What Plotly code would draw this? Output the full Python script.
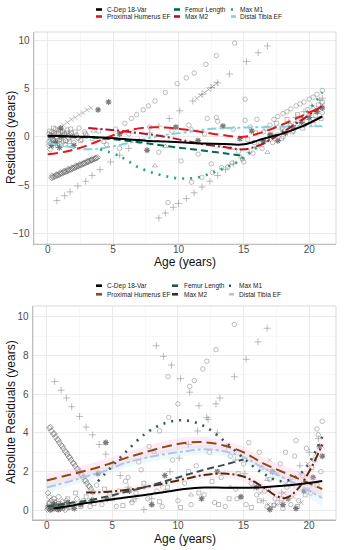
import plotly.graph_objects as go

W, H = 344, 550
FONT = "Liberation Sans"

# ---------------- TOP PANEL : residuals ----------------
top_circ_age = [0.1,0.2,0.3,0.4,0.5,0.6,0.7,0.8,0.9,1.0,1.1,1.2,1.3,1.5,1.6,1.8,2.0,2.2,2.4,2.6,2.8,3.0,
                5.2,5.9,6.4,6.8,7.3,7.7,8.2,9.0,9.9,10.6,11.2,12.1,12.9,14.3,
                4.5,5.5,6.2,7.0,7.8,8.5,9.2,9.5,10.2,10.8,11.5,12.0,12.5,13.0,13.4,13.8,14.2,14.6,15.1,15.0,15.5,15.8,12.2,12.9,15.1,16.0,
                16.5,17.0,17.3,17.6,18.0,18.3,18.6,19.0,19.3,19.6,20.0,20.3,20.6,21.0,
                11.0,11.8,12.6,13.3,14.1,14.9,15.7,16.4,17.2,18.0,18.8,19.6,20.3,21.0]
top_circ_res = [0.3,-0.2,0.5,-0.4,0.2,0.8,-0.1,0.4,-0.3,0.6,0.1,-0.5,0.3,0.7,-0.2,0.4,-0.6,0.2,0.9,-0.3,0.5,0.1,
                0.8,1.4,1.9,2.3,2.8,3.2,3.7,4.6,5.5,6.1,6.6,7.5,8.4,9.7,
                -0.8,-1.2,0.3,-0.5,1.0,-1.6,-6.8,0.6,-2.5,1.2,-1.8,0.3,-2.8,1.6,-0.9,-3.1,0.8,-1.5,3.9,-2.6,1.0,-0.6,1.9,2.0,1.7,1.8,
                0.5,1.2,1.8,2.1,2.4,2.6,2.9,3.2,3.4,3.6,3.9,4.1,4.4,4.8,
                -4.7,-4.2,-3.7,-3.2,-2.7,-2.3,-1.7,-1.2,-0.6,0.0,0.6,1.2,1.8,2.5]

top_plus_age = [0.7,1.3,1.7,2.3,2.9,3.4,4.0,4.8,5.5,6.2,7.0,7.8,8.5,9.3,10.1,11.1,11.8,12.5,13.0,13.9,15.2,16.1,16.8,
                8.5,9.0,9.6,10.0,10.6,11.2,11.8,12.4,13.0,13.6,14.2,14.8,15.4,16.0,16.6,17.2,17.8,18.4,19.0,19.6,20.2,20.8,21.0]
top_plus_res = [-6.6,-6.1,-5.7,-5.1,-4.6,-4.0,-3.4,-2.6,-1.9,-1.2,-0.4,0.4,1.1,1.9,2.7,3.7,4.4,5.1,5.6,6.5,7.8,8.7,9.4,
                -8.4,-7.9,-7.3,-6.9,-6.4,-5.8,-5.2,-4.6,-4.0,-3.4,-2.8,-2.2,-1.6,-1.0,-0.4,0.2,0.8,1.4,2.0,2.6,3.2,3.8,4.0]

top_x_age = [1.2,1.5,1.8,2.1,2.4,2.7,3.0,3.3, 16.3,16.9,17.5,18.1,18.7,19.3,19.9,20.5,21.0, 11.4,11.7,12.0,12.3,12.6,12.9]
top_x_res = [1.2,1.5,1.8,2.0,2.3,2.5,2.8,3.0, -0.9,-0.3,0.3,0.9,1.3,1.9,2.4,2.9,3.3, 4.0,4.3,4.6,4.9,5.2,5.5]

top_star_age = [3.85,4.65,1.0,2.0,5.5,7.6,9.8,11.5,13.4,14.7,15.6,16.5,17.0,17.6,18.2,18.8,19.4,20.0,20.6,21.0,0.3,0.6,0.9]
top_star_res = [2.8,3.6,0.9,-0.9,0.3,-1.4,1.0,-0.4,1.1,-0.2,0.6,-0.5,0.2,-0.4,0.4,1.0,1.5,2.0,2.6,3.0,-0.9,-0.6,-1.1]

top_diam_age = [0.3,0.4,0.5,0.6,0.7,0.8,0.9,1.0,1.1,1.2,1.3,1.4,1.5,1.6,1.7,1.8,1.9,2.0,2.1,2.2,2.3,2.4,2.5,2.6,2.7,2.8,2.9,3.0,3.1,3.2,3.3,3.4,3.5,3.6,3.7,3.8,
                0.1,0.2,0.4,0.5,0.8,1.0,1.4,1.7,2.3,0.2,0.1,
                0.35,0.65,0.95,1.25,1.55,1.85,2.15,2.45,2.75,3.05,3.35,3.65]
top_diam_res = [-4.25,-4.2,-4.12,-4.08,-4.0,-3.96,-3.9,-3.82,-3.78,-3.7,-3.66,-3.6,-3.52,-3.48,-3.4,-3.36,-3.3,-3.22,-3.18,-3.1,-3.05,-3.0,-2.92,-2.88,-2.8,-2.76,-2.7,-2.62,-2.58,-2.5,-2.45,-2.4,-2.32,-2.28,-2.2,-2.15,
                -0.5,0.1,-0.2,0.4,-0.7,0.0,-0.4,0.2,-0.1,-1.3,-0.9,
                -4.05,-3.9,-3.7,-3.55,-3.35,-3.2,-3.0,-2.85,-2.7,-2.5,-2.35,-2.2]

top_extra_age = [0.15,0.25,0.35,0.45,0.55,0.65,0.75,0.85,0.95,1.05,1.15,1.25,1.35,1.45,1.55,1.65,1.75,1.9,2.1,2.5,2.9,3.4,3.9,4.3,
                 15.3,15.9,16.3,16.7,17.1,17.5,17.9,18.3,18.7,19.1,19.5,19.9,20.3,20.7,21.0,20.9,20.5,19.8]
top_extra_res = [0.6,-0.7,0.1,0.9,-0.4,0.3,-0.9,0.7,0.0,-0.3,0.5,0.2,-0.8,0.4,0.1,-0.5,0.8,0.0,0.5,-0.4,0.3,-0.2,0.6,-0.5,
                 -0.3,0.4,-0.6,0.9,0.1,1.4,-0.2,1.8,0.5,2.3,0.9,2.8,1.3,3.3,3.6,1.9,2.2,1.6]

top_tri_age = [6.5,9.0,11.0,14.0,8.2,3.5,16.8]
top_tri_res = [0.5,-1.0,0.8,-1.2,-3.0,0.6,-1.6]

# smooth curves (top)
top_curve_age = [0,1.5,3,4.5,6,7.5,9,10.5,12,13.5,15,16.5,18,19.5,21]
top_cdep = [0.1,0.05,0.0,-0.1,-0.25,-0.4,-0.5,-0.6,-0.7,-0.75,-0.78,-0.2,0.35,1.1,2.1]
top_prox = [-1.8,-1.5,-0.9,-0.1,0.6,0.95,0.95,0.75,0.45,0.15,0.0,0.5,1.3,2.2,3.1]
top_distal = [-0.65,-1.0,-1.3,-1.1,-0.7,-0.2,0.2,0.45,0.75,0.9,0.95,1.0,1.05,1.1,1.1]
top_femur_age = [0,1.5,3,4.5,6,7.5,9,10.5,12,13.5,15]
top_femur = [0.0,0.0,-0.05,-0.2,-0.4,-0.65,-0.95,-1.2,-1.45,-1.7,-2.0]
top_m1_age = [4,5.5,7,8.5,10,11.5,13,14.5,16,17.5,19,20,21]
top_m1 = [-1.3,-2.0,-3.2,-3.9,-4.3,-4.2,-3.5,-2.6,-1.1,0.2,1.5,2.8,4.6]
top_m2_age = [3.1,4.5,6,7.5,9,10.5,12,13.5,15,16.5,18,19.5,21]
top_m2 = [0.9,0.75,0.55,0.3,0.0,-0.4,-0.8,-1.05,-1.3,-0.7,0.5,1.8,3.2]

# ---------------- BOTTOM PANEL : absolute residuals ----------------
bot_diam_age = [0.05,0.1,0.15,0.2,0.3,0.35,0.4,0.5,0.55,0.6,0.7,0.8,0.9,1.0,1.1,1.3,1.5,1.7,2.0,2.3,0.1,0.2,0.25,0.45,0.65,0.75,1.2,1.4,
                0.2,0.35,0.5,0.65,0.8,0.95,1.1,1.25,1.4,1.55,1.7,1.85,2.0,2.15,2.3,2.45,2.6,2.75,2.9,3.05,3.2,3.35,3.5,
                0.28,0.58,0.88,1.18,1.48,1.78,2.08,2.38,2.68,2.98,3.28]
bot_diam_res = [0.05,0.2,0.1,0.35,0.15,0.5,0.05,0.25,0.6,0.1,0.4,0.2,0.7,0.1,0.3,0.15,0.5,0.2,0.35,0.6,0.9,0.7,0.02,0.12,0.28,0.08,0.45,0.03,
                4.25,4.1,3.95,3.8,3.66,3.5,3.36,3.2,3.05,2.9,2.76,2.6,2.45,2.3,2.15,2.0,1.85,1.7,1.55,1.4,1.26,1.1,0.95,
                4.3,3.95,3.62,3.3,3.0,2.72,2.42,2.12,1.82,1.52,1.22]

bot_plus_age = [0.6,1.1,1.5,1.9,2.5,3.0,3.5,4.0,4.5,5.0,5.6,6.2,6.8,7.4,8.0,8.7,9.4,10.1,10.8,11.5,12.2,12.9,13.2,14.3,15.2,16.1,16.8,
                8.35,8.9,9.5,10.2,10.9,11.6,12.3,13.0,13.7,14.4,15.1,15.8,16.5,17.2,17.9,18.6,19.3,20.0,20.7]
bot_plus_res = [6.65,6.2,5.8,5.35,4.85,4.3,3.9,3.4,2.9,2.4,1.8,1.2,0.6,0.05,0.6,1.3,2.0,2.7,3.4,4.1,4.8,5.5,5.8,6.9,7.8,8.7,9.4,
                8.5,7.95,7.5,6.8,6.1,5.4,4.7,4.0,3.3,2.6,1.9,1.2,0.5,0.2,0.9,1.6,2.3,3.0,3.7]

bot_circ_age = [5.5,6.2,7.0,7.8,8.6,9.3,10.0,10.9,11.25,11.9,12.2,12.9,14.3,9.24,
                15.2,15.6,16.0,16.4,16.8,17.0,17.4,17.8,18.0,18.3,18.6,18.9,19.2,19.5,19.8,20.1,20.4,20.7,21.0,20.6,20.9,19.0,16.2,15.0,14.5,15.4,16.6,17.6,18.2,
                4.2,4.8,5.3,6.0,6.5,7.2,7.7,8.4,8.8,9.6,10.0,10.5,11.0,11.4,12.0,12.4,12.8,13.3,13.6,14.0,14.4,2.8,3.3,3.8]
bot_circ_res = [1.0,1.7,2.5,3.3,4.1,4.8,5.5,6.4,6.7,7.3,7.7,8.3,9.6,6.9,
                0.3,1.4,0.8,2.2,0.2,1.6,0.6,2.4,0.1,1.2,0.3,2.8,0.5,1.8,3.2,0.9,2.6,3.9,4.6,4.2,2.0,3.6,3.0,2.4,0.6,3.5,1.0,0.4,3.0,
                0.3,0.9,0.2,1.5,0.4,2.1,0.6,1.0,0.2,2.6,0.5,1.4,0.3,2.3,0.8,3.0,0.4,1.7,0.2,2.8,1.1,0.5,0.2,1.3]

bot_extra_age = [0.1,0.2,0.3,0.4,0.5,0.6,0.7,0.8,0.9,1.0,1.2,1.4,1.6,1.8,2.2,2.6,3.0,3.6,4.4,5.0,
                 5.8,6.8,7.4,8.6,9.2,10.2,10.8,11.6,12.6,13.1,13.9,14.6,15.6,16.2,16.9,17.3,17.9,18.5,19.1,19.7,20.2,20.6]
bot_extra_res = [0.15,0.4,0.05,0.3,0.12,0.45,0.2,0.08,0.35,0.25,0.1,0.3,0.6,0.15,0.9,0.2,0.7,0.35,1.1,0.6,
                 0.25,0.9,1.4,0.45,1.2,0.15,2.0,0.9,1.5,0.3,0.6,1.9,0.15,0.5,1.1,0.25,0.6,1.4,0.2,0.8,2.2,1.3]

bot_star_age = [0.3,0.6,0.9,1.2,1.6,2.1,2.6,3.4,4.6,4.5,3.9,6.3,8.0,9.0,11.8,13.0,14.8,16.0,17.2,18.4,19.6,20.3,21.0,20.8,17.0,18.0,19.0]
bot_star_res = [0.1,0.3,0.05,0.2,0.4,0.1,0.3,0.5,0.6,3.5,1.9,1.0,0.3,1.8,0.6,2.0,0.7,1.2,2.0,0.6,1.0,1.7,2.8,3.3,0.05,0.3,0.1]

bot_x_age = [16.3,16.9,17.5,18.1,18.7,19.3,19.9,20.5,21.0,17.0,17.6,18.2,18.8,19.4,20.0]
bot_x_res = [0.9,0.3,0.3,0.9,1.3,1.9,2.4,2.9,3.3,2.6,1.9,1.4,0.7,0.4,1.1]

bot_tri_age = [6.5,9.0,11.0,14.0,8.2,3.5,16.8]
bot_tri_res = [0.5,1.0,0.8,1.2,3.0,0.6,1.6]

# smooth curves (bottom)
bot_curve_age = [0,1.5,3,4.5,6,7.5,9,10.5,12,13.5,15,16.5,18,19.5,21]
bot_cdep_age = [0.5,1.5,3,4.5,6,7.5,9,10.5,12,13.5,15,16.5,18,19.5,21]
bot_cdep = [0.1,0.2,0.38,0.52,0.67,0.8,0.95,1.1,1.18,1.17,1.17,1.2,1.27,1.38,1.52]
bot_prox = [1.54,1.8,2.05,2.35,2.7,3.0,3.28,3.48,3.52,3.35,3.0,2.43,1.98,1.55,1.1]
bot_prox_lo = [1.2,1.5,1.75,2.05,2.4,2.7,2.98,3.18,3.22,3.05,2.7,2.13,1.65,1.15,0.65]
bot_prox_hi = [1.9,2.1,2.35,2.65,3.0,3.3,3.58,3.78,3.82,3.65,3.3,2.73,2.3,1.95,1.55]
bot_distal = [1.18,1.45,1.75,2.05,2.45,2.7,2.9,3.05,3.15,3.05,2.75,2.2,1.7,1.2,0.64]
bot_distal_lo = [0.9,1.2,1.5,1.8,2.2,2.45,2.65,2.8,2.9,2.8,2.5,1.95,1.4,0.85,0.2]
bot_distal_hi = [1.46,1.7,2.0,2.3,2.7,2.95,3.15,3.3,3.4,3.3,3.0,2.45,2.0,1.55,1.08]
bot_femur_age = [0,1.5,3,4.5,6,7.5,9,10.5,12,13.5,15]
bot_femur = [0.2,0.35,0.5,0.7,0.95,1.2,1.5,1.8,2.1,2.35,2.63]
bot_m1_age = [3.9,5,6,7.5,9,10.5,12,13.5,15,16.5,18,19.5,21]
bot_m1 = [1.5,2.3,3.0,3.95,4.5,4.65,4.35,3.6,2.7,1.9,1.5,2.0,3.8]
bot_m2_age = [3,4.5,6,7.5,9,10.5,12,13.5,15,16.5,17.5,18.2,19,20,21]
bot_m2 = [0.92,0.95,1.05,1.2,1.4,1.62,1.83,1.9,1.75,1.2,0.75,0.64,1.0,2.0,3.4]
bot_m2_lo = [0.75,0.8,0.9,1.05,1.25,1.45,1.65,1.7,1.5,0.95,0.45,0.3,0.7,1.6,2.9]
bot_m2_hi = [1.1,1.1,1.2,1.35,1.55,1.8,2.0,2.1,2.0,1.45,1.05,0.95,1.3,2.4,3.9]

x_ticks = [0, 5, 10, 15, 20]
top_y_ticks = [-10, -5, 0, 5, 10]
bot_y_ticks = [0, 2, 4, 6, 8, 10]

# ---------------- styles ----------------
top_colors = {"C-Dep 18-Var": "#000000", "Proximal Humerus EF": "#e8141c", "Femur Length": "#006b4e",
              "Max M1": "#1aa87c", "Max M2": "#b8102a", "Distal Tibia EF": "#7fd3dc"}
bot_colors = {"C-Dep 18-Var": "#000000", "Proximal Humerus EF": "#8b4a1c", "Femur Length": "#34504d",
              "Max M1": "#3b5755", "Max M2": "#4a2c14", "Distal Tibia EF": "#b9c0e8"}
dashes = {"C-Dep 18-Var": "solid", "Proximal Humerus EF": "10px,5px", "Femur Length": "7px,4px",
          "Max M1": "2px,6px", "Max M2": "9px,3px,2px,3px", "Distal Tibia EF": "9px,3px,3px,3px"}

PT = "rgba(120,120,120,0.6)"
PT_DENSE = "rgba(105,105,105,0.75)"
PT_DARK = "rgba(90,90,90,0.8)"

fig = go.Figure()


def add_points(ax, ay, xs, ys, symbol, color, size=4.5, lw=0.8):
    fig.add_trace(go.Scatter(x=xs, y=ys, mode="markers", xaxis=ax, yaxis=ay, showlegend=False,
                             hoverinfo="skip",
                             marker=dict(symbol=symbol, size=size, color=color, line=dict(width=lw, color=color))))


def add_curve(ax, ay, xs, ys, name, colors, width=2.0):
    fig.add_trace(go.Scatter(x=xs, y=ys, mode="lines", xaxis=ax, yaxis=ay, showlegend=False,
                             hoverinfo="skip",
                             line=dict(color=colors[name], dash=dashes[name], width=width, shape="spline")))


def add_ribbon(ax, ay, xs, lo, hi, fill):
    fig.add_trace(go.Scatter(x=xs + xs[::-1], y=hi + lo[::-1], mode="lines", fill="toself",
                             fillcolor=fill, line=dict(width=0), xaxis=ax, yaxis=ay,
                             showlegend=False, hoverinfo="skip"))


# top points
add_points("x", "y", top_circ_age, top_circ_res, "circle-open", PT)
add_points("x", "y", top_extra_age, top_extra_res, "square-open", PT, 4)
add_points("x", "y", top_diam_age, top_diam_res, "diamond-open", PT_DENSE)
add_points("x", "y", top_plus_age, top_plus_res, "cross-thin-open", PT, 5)
add_points("x", "y", top_x_age, top_x_res, "x-thin-open", PT, 4.5)
add_points("x", "y", top_tri_age, top_tri_res, "triangle-up-open", PT)
add_points("x", "y", top_star_age, top_star_res, "asterisk-open", PT_DARK, 5, 1.2)

# top curves
add_curve("x", "y", top_curve_age, top_distal, "Distal Tibia EF", top_colors)
add_curve("x", "y", top_m1_age, top_m1, "Max M1", top_colors, 2.6)
add_curve("x", "y", top_m2_age, top_m2, "Max M2", top_colors)
add_curve("x", "y", top_femur_age, top_femur, "Femur Length", top_colors)
add_curve("x", "y", top_curve_age, top_prox, "Proximal Humerus EF", top_colors)
add_curve("x", "y", top_curve_age, top_cdep, "C-Dep 18-Var", top_colors)

# bottom points
add_points("x2", "y2", bot_circ_age, bot_circ_res, "circle-open", PT)
add_points("x2", "y2", bot_extra_age, bot_extra_res, "square-open", PT, 4)
add_points("x2", "y2", bot_diam_age, bot_diam_res, "diamond-open", PT_DENSE)
add_points("x2", "y2", bot_plus_age, bot_plus_res, "cross-thin-open", PT, 5)
add_points("x2", "y2", bot_x_age, bot_x_res, "x-thin-open", PT, 4.5)
add_points("x2", "y2", bot_tri_age, bot_tri_res, "triangle-up-open", PT)
add_points("x2", "y2", bot_star_age, bot_star_res, "asterisk-open", PT_DARK, 5, 1.2)

# bottom ribbons + curves
add_ribbon("x2", "y2", bot_curve_age, bot_distal_lo, bot_distal_hi, "rgba(190,235,240,0.3)")
add_ribbon("x2", "y2", bot_curve_age, bot_prox_lo, bot_prox_hi, "rgba(255,190,215,0.3)")
add_ribbon("x2", "y2", bot_m2_age, bot_m2_lo, bot_m2_hi, "rgba(255,190,215,0.25)")
add_curve("x2", "y2", bot_curve_age, bot_distal, "Distal Tibia EF", bot_colors)
add_curve("x2", "y2", bot_m1_age, bot_m1, "Max M1", bot_colors, 2.6)
add_curve("x2", "y2", bot_m2_age, bot_m2, "Max M2", bot_colors)
add_curve("x2", "y2", bot_femur_age, bot_femur, "Femur Length", bot_colors)
add_curve("x2", "y2", bot_curve_age, bot_prox, "Proximal Humerus EF", bot_colors)
add_curve("x2", "y2", bot_cdep_age, bot_cdep, "C-Dep 18-Var", bot_colors)


def px(x):
    return x / W


def py(y):
    return 1 - y / H


# panel geometry (pixels)
L, R = 34, 336
T1, B1 = 32, 244
T2, B2 = 306, 519.5

axis_common = dict(showgrid=True, gridcolor="#e6e6e6", gridwidth=0.8, zeroline=False,
                   showline=True, linecolor="#b5b5b5", linewidth=1.4, ticks="", ticklen=0,
                   tickfont=dict(family=FONT, size=10, color="#4d4d4d"))

fig.update_layout(
    width=W, height=H, margin=dict(l=0, r=0, t=0, b=0), autosize=False,
    paper_bgcolor="white", plot_bgcolor="white", showlegend=False,
    font=dict(family=FONT),
    xaxis=dict(domain=[px(L), px(R)], range=[-1.05, 22.05], tickvals=x_ticks, anchor="y",
               ticklabelstandoff=-4,
               minor=dict(showgrid=True, gridcolor="#f2f2f2", gridwidth=0.5, dtick=2.5, tick0=0),
               **axis_common),
    yaxis=dict(domain=[py(B1), py(T1)], range=[-11.1, 10.85], tickvals=top_y_ticks, anchor="x",
               ticklabelstandoff=1,
               minor=dict(showgrid=True, gridcolor="#f2f2f2", gridwidth=0.5, dtick=2.5, tick0=0),
               **axis_common),
    xaxis2=dict(domain=[px(L - 1), px(R)], range=[-1.05, 22.05], tickvals=x_ticks, anchor="y2",
                ticklabelstandoff=-4,
                minor=dict(showgrid=True, gridcolor="#f2f2f2", gridwidth=0.5, dtick=2.5, tick0=0),
                **axis_common),
    yaxis2=dict(domain=[py(B2), py(T2)], range=[-0.47, 10.55], tickvals=bot_y_ticks, anchor="x2",
                ticklabelstandoff=1,
                minor=dict(showgrid=True, gridcolor="#f2f2f2", gridwidth=0.5, dtick=1, tick0=0),
                **axis_common),
)

shapes = []
annotations = []

# panel borders
for (l, t, r, b) in [(L, T1, R, B1), (L - 1, T2, R, B2)]:
    shapes.append(dict(type="rect", xref="paper", yref="paper", x0=px(l), x1=px(r), y0=py(b), y1=py(t),
                       line=dict(color="#cfcfcf", width=0.8), fillcolor="rgba(0,0,0,0)", layer="above"))

# axis titles
annotations += [
    dict(text="Age (years)", x=px((L + R) / 2), y=py(261.5), xref="paper", yref="paper", showarrow=False,
         xanchor="center", yanchor="middle", font=dict(family=FONT, size=12, color="#111111")),
    dict(text="Residuals (years)", x=px(11), y=py((T1 + B1) / 2), xref="paper", yref="paper", showarrow=False,
         textangle=-90, xanchor="center", yanchor="middle", font=dict(family=FONT, size=12, color="#111111")),
    dict(text="Age (years)", x=px((L + R) / 2), y=py(538.5), xref="paper", yref="paper", showarrow=False,
         xanchor="center", yanchor="middle", font=dict(family=FONT, size=12, color="#111111")),
    dict(text="Absolute Residuals (years)", x=px(11), y=py((T2 + B2) / 2), xref="paper", yref="paper",
         showarrow=False, textangle=-90, xanchor="center", yanchor="middle",
         font=dict(family=FONT, size=12, color="#111111")),
]

# manual legends
legend_rows = [["C-Dep 18-Var", "Femur Length", "Max M1"],
               ["Proximal Humerus EF", "Max M2", "Distal Tibia EF"]]


def draw_legend(colors, row_y, col_sw, col_tx):
    for ri, row in enumerate(legend_rows):
        for ci, name in enumerate(row):
            y = row_y[ri]
            x0, x1 = col_sw[ci]
            d = "solid" if name != "Max M1" else "2px,3px"
            shapes.append(dict(type="line", xref="paper", yref="paper", x0=px(x0), x1=px(x1), y0=py(y), y1=py(y),
                               line=dict(color=colors[name], width=2.6, dash=d)))
            annotations.append(dict(text=name, x=px(col_tx[ci]), y=py(y), xref="paper", yref="paper",
                                    showarrow=False, xanchor="left", yanchor="middle",
                                    font=dict(family=FONT, size=6.5, color="#1a1a1a")))


draw_legend(top_colors, [9.5, 16.5], [(96, 102), (174, 180), (231, 236)], [105, 182.5, 237.5])
draw_legend(bot_colors, [285.7, 294.3], [(96, 102), (172, 178), (229, 234)], [105.3, 181.7, 236.7])

fig.update_layout(shapes=shapes, annotations=annotations)

# remove the browser's default 8px body margin so the figure fills the 344x550 window exactly
fig.write_html("out.html",
               config={"displayModeBar": False, "staticPlot": True},
               post_script="document.body.style.margin='0';document.body.style.padding='0';"
                           "document.body.style.overflow='hidden';")
